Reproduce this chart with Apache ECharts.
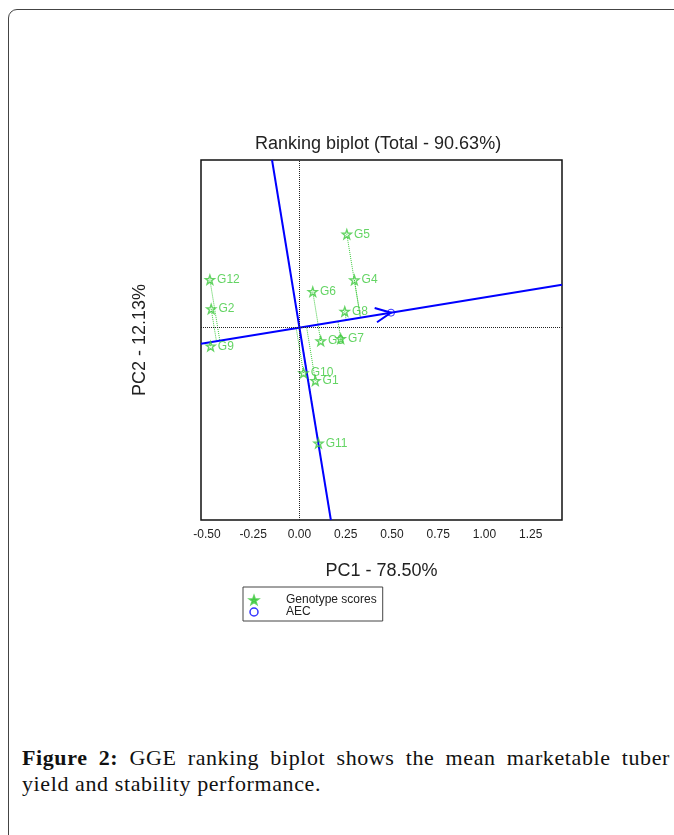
<!DOCTYPE html>
<html>
<head>
<meta charset="utf-8">
<script src="https://cdn.jsdelivr.net/npm/echarts@6/dist/echarts.min.js"></script>
<style>
  html, body { margin:0; padding:0; background:#fff; }
  body { width:674px; height:835px; overflow:hidden; position:relative; }
  #frame { position:absolute; left:8px; top:9px; width:720px; height:900px; border:1px solid #444; border-radius:9px; box-sizing:border-box; }
  #chart { position:absolute; left:0; top:0; width:674px; height:700px; }
  #caption { position:absolute; left:22px; top:745px; width:648px; font-family:"Liberation Serif", "DejaVu Serif", serif; font-size:22px; letter-spacing:0.6px; line-height:26px; color:#111; }
  #caption .l1 { text-align:justify; text-align-last:justify; }
  #caption b { font-weight:bold; }
</style>
</head>
<body>
<div id="frame"></div>
<div id="chart"></div>
<div id="caption">
  <div class="l1"><b>Figure 2:</b> GGE ranking biplot shows the mean marketable tuber</div>
  <div>yield and stability performance.</div>
</div>
<script>
// ---- data ----
const genotypes = ['G1','G2','G3','G4','G5','G6','G7','G8','G9','G10','G11','G12'];
const pc1 = [0.086, -0.477, 0.115, 0.297, 0.256, 0.072, 0.223, 0.245, -0.480, 0.022, 0.103, -0.484];
const pc2 = [-0.286, 0.101, -0.072, 0.257, 0.504, 0.194, -0.059, 0.088, -0.100, -0.244, -0.624, 0.259];
const aec = [0.495, 0.081];
const xTicks = [-0.5, -0.25, 0, 0.25, 0.5, 0.75, 1.0, 1.25];
const xRange = [-0.532, 1.419];
const yRange = [-1.038, 0.905];
const titleText = 'Ranking biplot (Total - 90.63%)';
const xName = 'PC1 - 78.50%';
const yName = 'PC2 - 12.13%';
const legendNames = ['Genotype scores', 'AEC'];

const GREEN = '#3dc93d';
const BLUE = '#0000ff';
const STAR = 'path://M0,-10 L2.35,-3.24 L9.51,-3.09 L3.8,1.24 L5.88,8.09 L0,4 L-5.88,8.09 L-3.8,1.24 L-9.51,-3.09 L-2.35,-3.24 Z';

// derived geometry
const s = aec[1] / aec[0];
const abscissa = [[xRange[0], s * xRange[0]], [xRange[1], s * xRange[1]]];
const ordinate = [[-s * yRange[1], yRange[1]], [-s * yRange[0], yRange[0]]];
const aa = aec[0] * aec[0] + aec[1] * aec[1];
const projLines = genotypes.map((g, i) => {
  const t = (pc1[i] * aec[0] + pc2[i] * aec[1]) / aa;
  return { coords: [[pc1[i], pc2[i]], [t * aec[0], t * aec[1]]] };
});
const points = genotypes.map((g, i) => ({ name: g, value: [pc1[i], pc2[i]] }));

const chart = echarts.init(document.getElementById('chart'), null, { renderer: 'canvas' });
const font = '"Liberation Sans", Arial, sans-serif';

chart.setOption({
  animation: false,
  textStyle: { fontFamily: font },
  title: {
    text: titleText,
    left: 250, top: 130,
    textStyle: { fontFamily: font, fontSize: 18, fontWeight: 'normal', color: '#222' }
  },
  grid: {
    left: 201, top: 160, width: 361, height: 360,
    show: true, borderColor: '#111', borderWidth: 1.5, backgroundColor: 'transparent'
  },
  xAxis: {
    type: 'value', min: xRange[0], max: xRange[1],
    name: xName, nameLocation: 'middle', nameGap: 42,
    nameTextStyle: { fontSize: 18, color: '#222', fontFamily: font },
    axisLine: { show: false }, axisTick: { show: false }, splitLine: { show: false },
    axisLabel: {
      customValues: xTicks, margin: 9, fontSize: 12, color: '#222', fontFamily: font,
      formatter: v => v.toFixed(2)
    }
  },
  yAxis: {
    type: 'value', min: yRange[0], max: yRange[1],
    name: yName, nameLocation: 'middle', nameGap: 52, nameRotate: 90,
    nameTextStyle: { fontSize: 18, color: '#222', fontFamily: font },
    axisLine: { show: false }, axisTick: { show: false }, splitLine: { show: false },
    axisLabel: { show: false }
  },
  legend: {
    orient: 'vertical', left: 243, top: 587,
    padding: [7, 6, 3, 6], itemGap: 0, itemWidth: 8, itemHeight: 8,
    borderColor: '#444', borderWidth: 1, borderRadius: 0,
    textStyle: { fontSize: 12, color: '#222', fontFamily: font, lineHeight: 12, padding: [0, 0, 0, 23] },
    data: [
      { name: legendNames[0], icon: STAR, itemStyle: { color: GREEN, borderColor: GREEN } },
      { name: legendNames[1], icon: 'circle', itemStyle: { color: '#fff', borderColor: BLUE, borderWidth: 1.5 } }
    ]
  },
  series: [
    {
      name: 'zero', type: 'line', data: [], silent: true,
      markLine: {
        silent: true, symbol: 'none', label: { show: false },
        lineStyle: { color: '#222', type: 'dotted', width: 1 },
        data: [{ xAxis: 0 }, { yAxis: 0 }]
      }
    },
    {
      name: 'proj', type: 'lines', coordinateSystem: 'cartesian2d', silent: true,
      lineStyle: { color: GREEN, type: 'dotted', width: 1, opacity: 1 },
      data: projLines, z: 2
    },
    {
      name: legendNames[0], type: 'scatter', data: points, z: 4,
      symbol: STAR, symbolSize: 9,
      itemStyle: { color: 'rgba(255,255,255,0)', borderColor: GREEN, borderWidth: 1.4 },
      label: { show: true, position: 'right', distance: 2, formatter: p => p.name, color: GREEN, fontSize: 12, fontFamily: font }
    },
    {
      name: 'abscissa', type: 'line', data: abscissa, symbol: 'none', silent: true,
      lineStyle: { color: BLUE, width: 2 }, z: 3
    },
    {
      name: 'ordinate', type: 'line', data: ordinate, symbol: 'none', silent: true,
      lineStyle: { color: BLUE, width: 2 }, z: 3
    },
    {
      name: 'arrowhead', type: 'custom', silent: true, data: [aec], z: 3,
      renderItem: (params, api) => {
        const tip = api.coord([api.value(0), api.value(1)]);
        const o = api.coord([0, 0]);
        const ang = Math.atan2(o[1] - tip[1], o[0] - tip[0]);
        const L = 17, a = 25 * Math.PI / 180;
        const p1 = [tip[0] + L * Math.cos(ang + a), tip[1] + L * Math.sin(ang + a)];
        const p2 = [tip[0] + L * Math.cos(ang - a), tip[1] + L * Math.sin(ang - a)];
        return {
          type: 'polyline',
          shape: { points: [p1, tip, p2] },
          style: { stroke: BLUE, lineWidth: 2, fill: null }
        };
      }
    },
    {
      name: legendNames[1], type: 'scatter', data: [aec], z: 5,
      symbol: 'circle', symbolSize: 7,
      itemStyle: { color: 'rgba(255,255,255,0)', borderColor: BLUE, borderWidth: 1 }
    }
  ]
});
</script>
</body>
</html>
